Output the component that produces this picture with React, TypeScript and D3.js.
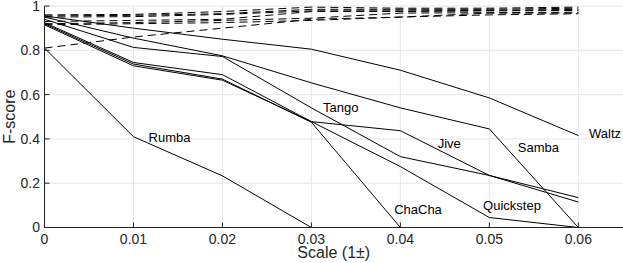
import React from 'react';
import * as d3 from 'd3';

// scale offsets along the x axis
const scales = [0, 0.01, 0.02, 0.03, 0.04, 0.05, 0.06];

// solid lines: F-score per dance
const waltz = [0.955, 0.9, 0.85, 0.805, 0.71, 0.585, 0.415];
const samba = [0.95, 0.855, 0.775, 0.653, 0.54, 0.445, 0];
const tango = [0.94, 0.813, 0.772, 0.54, 0.32, 0.235, 0.115];
const jive = [0.925, 0.745, 0.69, 0.478, 0.437, 0.235, 0.135];
const chacha = [0.92, 0.738, 0.67, 0.475, 0, 0, 0];
const quickstep = [0.915, 0.73, 0.665, 0.478, 0.275, 0.045, 0];
const rumba = [0.81, 0.41, 0.233, 0, 0, 0, 0];

// dashed lines
const dashed1 = [0.96, 0.962, 0.975, 0.995, 0.99, 0.99, 0.995];
const dashed2 = [0.955, 0.958, 0.965, 0.985, 0.985, 0.985, 0.99];
const dashed3 = [0.95, 0.952, 0.962, 0.978, 0.978, 0.98, 0.985];
const dashed4 = [0.93, 0.935, 0.94, 0.975, 0.975, 0.978, 0.98];
const dashed5 = [0.92, 0.925, 0.935, 0.945, 0.968, 0.97, 0.972];
const dashed6 = [0.915, 0.92, 0.925, 0.935, 0.95, 0.968, 0.968];
const dashed7 = [0.81, 0.86, 0.9, 0.94, 0.95, 0.96, 0.965];

const solidSeries = [waltz, samba, tango, jive, chacha, quickstep, rumba];
const dashedSeries = [dashed1, dashed2, dashed3, dashed4, dashed5, dashed6, dashed7];

// labels placed next to the lines: [name, x value, y value]
const labels: [string, number, number][] = [
  ['Rumba', 0.0117, 0.385],
  ['Tango', 0.0313, 0.52],
  ['Jive', 0.0442, 0.357],
  ['Samba', 0.0532, 0.34],
  ['Waltz', 0.0612, 0.402],
  ['ChaCha', 0.0393, 0.06],
  ['Quickstep', 0.0493, 0.08],
];

const xTicks = [0, 0.01, 0.02, 0.03, 0.04, 0.05, 0.06];
const yTicks = [0, 0.2, 0.4, 0.6, 0.8, 1];

const font = 'Liberation Sans, Arial, Helvetica, sans-serif';

export default function App() {
  const width = 623;
  const height = 263;
  const left = 44.5;
  const top = 6;
  const bottom = 227.5;

  const x = d3.scaleLinear().domain([0, 0.065]).range([left, 622.8]);
  const y = d3.scaleLinear().domain([0, 1]).range([bottom, top]);

  const line = d3
    .line<number>()
    .x((_, i) => x(scales[i]))
    .y((d) => y(d));

  return (
    <svg
      width={width}
      height={height}
      style={{ position: 'absolute', left: 0, top: 0, background: '#fff' }}
      fontFamily={font}
    >
      {/* grid */}
      <g stroke="#e6e6e6" strokeWidth={1}>
        {xTicks.slice(1).map((t) => (
          <line key={'gx' + t} x1={x(t)} x2={x(t)} y1={top} y2={bottom} />
        ))}
        {yTicks.slice(1).map((t) => (
          <line key={'gy' + t} x1={left} x2={width} y1={y(t)} y2={y(t)} />
        ))}
      </g>

      {/* dashed lines */}
      <g fill="none" stroke="#000" strokeWidth={1} strokeDasharray="8,5">
        {dashedSeries.map((s, i) => (
          <path key={'d' + i} d={line(s) || ''} />
        ))}
      </g>

      {/* solid lines */}
      <g fill="none" stroke="#000" strokeWidth={1}>
        {solidSeries.map((s, i) => (
          <path key={'s' + i} d={line(s) || ''} />
        ))}
      </g>

      {/* axes */}
      <g stroke="#222" strokeWidth={1}>
        <line x1={left} x2={left} y1={top} y2={bottom} />
        <line x1={left} x2={width} y1={bottom} y2={bottom} />
        {xTicks.map((t) => (
          <line key={'tx' + t} x1={x(t)} x2={x(t)} y1={bottom} y2={bottom - 5} />
        ))}
        {yTicks.map((t) => (
          <line key={'ty' + t} x1={left} x2={left + 5} y1={y(t)} y2={y(t)} />
        ))}
      </g>

      <g fontSize={14} fill="#262626">
        {xTicks.map((t) => (
          <text key={'lx' + t} x={x(t)} y={244} textAnchor="middle">
            {t === 0 ? '0' : d3.format('.2f')(t)}
          </text>
        ))}
        {yTicks.map((t) => (
          <text key={'ly' + t} x={40} y={y(t)} dy="0.35em" textAnchor="end">
            {t === 0 || t === 1 ? String(t) : d3.format('.1f')(t)}
          </text>
        ))}
      </g>

      <text x={(left + width) / 2} y={258} textAnchor="middle" fontSize={16} fill="#262626">
        Scale (1±)
      </text>
      <text
        transform={`translate(15,${(top + bottom) / 2}) rotate(-90)`}
        textAnchor="middle"
        fontSize={16}
        fill="#262626"
      >
        F-score
      </text>

      <g fontSize={13} fill="#000">
        {labels.map(([name, lx, ly]) => (
          <text key={name} x={x(lx)} y={y(ly)}>
            {name}
          </text>
        ))}
      </g>
    </svg>
  );
}
